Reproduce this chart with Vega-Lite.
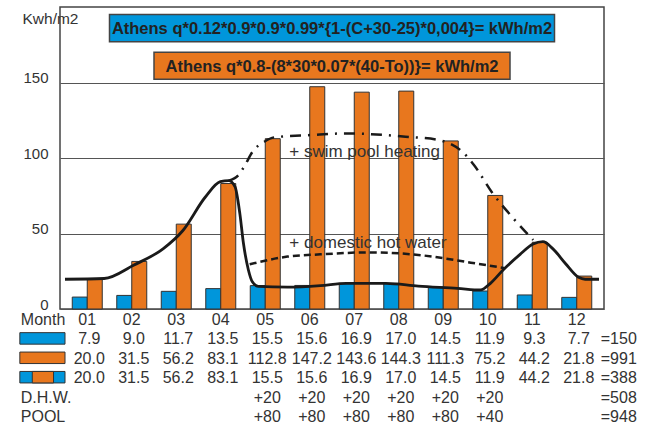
{
  "$schema": "https://vega.github.io/schema/vega-lite/v6.json",
  "width": 544,
  "height": 302,
  "autosize": {"type": "none"},
  "padding": {"left": 60, "top": 7, "right": 59, "bottom": 119},
  "background": "white",
  "config": {
    "view": {"stroke": "#444", "strokeWidth": 1.5},
    "font": "Liberation Sans",
    "text": {"font": "Liberation Sans", "color": "#333"}
  },
  "datasets": {
    "months": [
      {"month": 1, "label": "01", "collector": 7.9, "demand": 20.0, "combined": 20.0, "dhw": null, "pool": null},
      {"month": 2, "label": "02", "collector": 9.0, "demand": 31.5, "combined": 31.5, "dhw": null, "pool": null},
      {"month": 3, "label": "03", "collector": 11.7, "demand": 56.2, "combined": 56.2, "dhw": null, "pool": null},
      {"month": 4, "label": "04", "collector": 13.5, "demand": 83.1, "combined": 83.1, "dhw": null, "pool": null},
      {"month": 5, "label": "05", "collector": 15.5, "demand": 112.8, "combined": 15.5, "dhw": 20, "pool": 80},
      {"month": 6, "label": "06", "collector": 15.6, "demand": 147.2, "combined": 15.6, "dhw": 20, "pool": 80},
      {"month": 7, "label": "07", "collector": 16.9, "demand": 143.6, "combined": 16.9, "dhw": 20, "pool": 80},
      {"month": 8, "label": "08", "collector": 17.0, "demand": 144.3, "combined": 17.0, "dhw": 20, "pool": 80},
      {"month": 9, "label": "09", "collector": 14.5, "demand": 111.3, "combined": 14.5, "dhw": 20, "pool": 80},
      {"month": 10, "label": "10", "collector": 11.9, "demand": 75.2, "combined": 11.9, "dhw": 20, "pool": 40},
      {"month": 11, "label": "11", "collector": 9.3, "demand": 44.2, "combined": 44.2, "dhw": null, "pool": null},
      {"month": 12, "label": "12", "collector": 7.7, "demand": 21.8, "combined": 21.8, "dhw": null, "pool": null}
    ],
    "solid": [
      {"x": 0.5, "y": 19.7}, {"x": 1.38, "y": 20.2}, {"x": 2.04, "y": 29}, {"x": 2.71, "y": 40},
      {"x": 3.15, "y": 52}, {"x": 3.65, "y": 74}, {"x": 3.99, "y": 84.3}, {"x": 4.18, "y": 85},
      {"x": 4.32, "y": 81}, {"x": 4.43, "y": 63}, {"x": 4.51, "y": 43.5}, {"x": 4.62, "y": 26},
      {"x": 4.71, "y": 18}, {"x": 4.84, "y": 15}, {"x": 5.5, "y": 14.5}, {"x": 6.24, "y": 15.5},
      {"x": 6.82, "y": 17}, {"x": 7.71, "y": 17}, {"x": 8.44, "y": 15.2}, {"x": 9.32, "y": 13.7},
      {"x": 9.84, "y": 12.6}, {"x": 10.06, "y": 17}, {"x": 10.35, "y": 26}, {"x": 10.72, "y": 36},
      {"x": 11.02, "y": 43}, {"x": 11.24, "y": 44.6}, {"x": 11.46, "y": 40}, {"x": 11.75, "y": 30},
      {"x": 12.04, "y": 21}, {"x": 12.19, "y": 19.7}, {"x": 12.5, "y": 19.7}
    ],
    "dhwCurve": [
      {"x": 4.65, "y": 29.6}, {"x": 5.5, "y": 34.7}, {"x": 6.24, "y": 36.2}, {"x": 7.34, "y": 37.5},
      {"x": 8.44, "y": 35.8}, {"x": 9.62, "y": 30.7}, {"x": 10.39, "y": 27}
    ],
    "poolCurve": [
      {"x": 4.18, "y": 85}, {"x": 4.4, "y": 88.7}, {"x": 4.54, "y": 95}, {"x": 4.71, "y": 104},
      {"x": 4.98, "y": 110.8}, {"x": 5.21, "y": 113.7}, {"x": 6.02, "y": 115.2}, {"x": 6.82, "y": 116.3},
      {"x": 8.15, "y": 114.1}, {"x": 8.88, "y": 112}, {"x": 9.47, "y": 103}, {"x": 9.69, "y": 95.4},
      {"x": 10.1, "y": 77}, {"x": 10.54, "y": 61.2}, {"x": 11.02, "y": 45.7}
    ]
  },
  "data": {"name": "months"},
  "resolve": {"scale": {"y": "independent"}},
  "layer": [
    {
      "mark": {"type": "bar", "width": 15, "xOffset": -7.5, "fill": "#0096DB", "stroke": "#333", "strokeWidth": 1},
      "encoding": {
        "x": {"field": "month", "type": "quantitative", "scale": {"domain": [0.5, 12.5], "nice": false, "zero": false}, "axis": null},
        "y": {
          "field": "collector", "type": "quantitative",
          "scale": {"domain": [0, 200], "nice": false},
          "axis": {
            "values": [0, 50, 100, 150], "grid": true, "gridColor": "#555", "gridWidth": 1,
            "domain": false, "ticks": false, "labelFont": "Liberation Sans", "labelFontSize": 15,
            "labelColor": "#333", "labelPadding": 12, "labelBaseline": "alphabetic",
            "title": "Kwh/m2", "titleAngle": 0, "titleAlign": "left", "titleBaseline": "alphabetic",
            "titleX": -38, "titleY": 16, "titleFont": "Liberation Sans", "titleFontSize": 15.5,
            "titleFontWeight": "normal", "titleColor": "#333"
          }
        }
      }
    },
    {
      "mark": {"type": "bar", "width": 15, "xOffset": 7.5, "fill": "#E8771E", "stroke": "#333", "strokeWidth": 1},
      "encoding": {
        "x": {"field": "month", "type": "quantitative", "scale": {"domain": [0.5, 12.5], "nice": false, "zero": false}, "axis": null},
        "y": {"field": "demand", "type": "quantitative", "scale": {"domain": [0, 200], "nice": false}, "axis": null}
      }
    },
    {
      "data": {"name": "solid"},
      "mark": {"type": "line", "interpolate": "monotone", "stroke": "#1a1a1a", "strokeWidth": 2.8},
      "encoding": {
        "x": {"field": "x", "type": "quantitative", "scale": {"domain": [0.5, 12.5], "nice": false, "zero": false}, "axis": null},
        "y": {"field": "y", "type": "quantitative", "scale": {"domain": [0, 200], "nice": false}, "axis": null}
      }
    },
    {
      "data": {"name": "dhwCurve"},
      "mark": {"type": "line", "interpolate": "monotone", "stroke": "#1a1a1a", "strokeWidth": 2.5, "strokeDash": [7, 4]},
      "encoding": {
        "x": {"field": "x", "type": "quantitative", "scale": {"domain": [0.5, 12.5], "nice": false, "zero": false}, "axis": null},
        "y": {"field": "y", "type": "quantitative", "scale": {"domain": [0, 200], "nice": false}, "axis": null}
      }
    },
    {
      "data": {"name": "poolCurve"},
      "mark": {"type": "line", "interpolate": "monotone", "stroke": "#1a1a1a", "strokeWidth": 2.5, "strokeDash": [11, 7, 2, 7]},
      "encoding": {
        "x": {"field": "x", "type": "quantitative", "scale": {"domain": [0.5, 12.5], "nice": false, "zero": false}, "axis": null},
        "y": {"field": "y", "type": "quantitative", "scale": {"domain": [0, 200], "nice": false}, "axis": null}
      }
    },
    {
      "data": {"values": [
        {"t": "+ swim pool heating", "x": 5.54, "y": 100.5},
        {"t": "+ domestic hot water", "x": 5.54, "y": 40.4}
      ]},
      "mark": {"type": "text", "align": "left", "baseline": "alphabetic", "fontSize": 17, "color": "#333"},
      "encoding": {
        "x": {"field": "x", "type": "quantitative", "scale": {"domain": [0.5, 12.5], "nice": false, "zero": false}, "axis": null},
        "y": {"field": "y", "type": "quantitative", "scale": {"domain": [0, 200], "nice": false}, "axis": null},
        "text": {"field": "t"}
      }
    },
    {
      "data": {"values": [{"t": "Athens q*0.12*0.9*0.9*0.99*{1-(C+30-25)*0,004}= kWh/m2"}]},
      "layer": [
        {
          "mark": {"type": "rect", "fill": "#0096DB", "stroke": "#444", "strokeWidth": 1.5},
          "encoding": {
            "x": {"datum": 1.5, "type": "quantitative", "scale": {"domain": [0.5, 12.5], "nice": false, "zero": false}, "axis": null},
            "x2": {"datum": 11.5},
            "y": {"datum": 195, "type": "quantitative", "scale": {"domain": [0, 200], "nice": false}, "axis": null},
            "y2": {"datum": 177}
          }
        },
        {
          "mark": {"type": "text", "align": "center", "baseline": "alphabetic", "fontSize": 16.5, "fontWeight": "bold", "color": "#222"},
          "encoding": {
            "x": {"datum": 6.5, "type": "quantitative", "scale": {"domain": [0.5, 12.5], "nice": false, "zero": false}, "axis": null},
            "y": {"datum": 182, "type": "quantitative", "scale": {"domain": [0, 200], "nice": false}, "axis": null},
            "text": {"field": "t"}
          }
        }
      ]
    },
    {
      "data": {"values": [{"t": "Athens q*0.8-(8*30*0.07*(40-To))}= kWh/m2"}]},
      "layer": [
        {
          "mark": {"type": "rect", "fill": "#E8771E", "stroke": "#444", "strokeWidth": 1.5},
          "encoding": {
            "x": {"datum": 2.5, "type": "quantitative", "scale": {"domain": [0.5, 12.5], "nice": false, "zero": false}, "axis": null},
            "x2": {"datum": 10.5},
            "y": {"datum": 170, "type": "quantitative", "scale": {"domain": [0, 200], "nice": false}, "axis": null},
            "y2": {"datum": 152.2}
          }
        },
        {
          "mark": {"type": "text", "align": "center", "baseline": "alphabetic", "fontSize": 16.5, "fontWeight": "bold", "color": "#222"},
          "encoding": {
            "x": {"datum": 6.5, "type": "quantitative", "scale": {"domain": [0.5, 12.5], "nice": false, "zero": false}, "axis": null},
            "y": {"datum": 157.2, "type": "quantitative", "scale": {"domain": [0, 200], "nice": false}, "axis": null},
            "text": {"field": "t"}
          }
        }
      ]
    },
    {
      "mark": {"type": "text", "align": "center", "baseline": "alphabetic", "fontSize": 16, "color": "#333"},
      "encoding": {
        "x": {"field": "month", "type": "quantitative", "scale": {"domain": [0.5, 12.5], "nice": false, "zero": false}, "axis": null},
        "y": {"datum": "Month", "type": "ordinal", "scale": {"type": "point", "domain": ["Month", "collector", "demand", "combined", "dhw", "pool"], "range": [318, 415], "padding": 0}, "axis": null},
        "text": {"field": "label"}
      }
    },
    {
      "transform": [{"fold": ["collector", "demand", "combined"], "as": ["row", "value"]}],
      "mark": {"type": "text", "align": "center", "baseline": "alphabetic", "fontSize": 16, "dx": 2, "color": "#333"},
      "encoding": {
        "x": {"field": "month", "type": "quantitative", "scale": {"domain": [0.5, 12.5], "nice": false, "zero": false}, "axis": null},
        "y": {"field": "row", "type": "ordinal", "scale": {"type": "point", "domain": ["Month", "collector", "demand", "combined", "dhw", "pool"], "range": [318, 415], "padding": 0}, "axis": null},
        "text": {"field": "value", "type": "quantitative", "format": ".1f"}
      }
    },
    {
      "transform": [{"fold": ["dhw", "pool"], "as": ["row", "value"]}, {"filter": "isValid(datum.value)"}],
      "mark": {"type": "text", "align": "center", "baseline": "alphabetic", "fontSize": 16, "dx": 2, "color": "#333"},
      "encoding": {
        "x": {"field": "month", "type": "quantitative", "scale": {"domain": [0.5, 12.5], "nice": false, "zero": false}, "axis": null},
        "y": {"field": "row", "type": "ordinal", "scale": {"type": "point", "domain": ["Month", "collector", "demand", "combined", "dhw", "pool"], "range": [318, 415], "padding": 0}, "axis": null},
        "text": {"field": "value", "type": "quantitative", "format": "+d"}
      }
    },
    {
      "data": {"values": [{"row": "Month", "t": "Month"}, {"row": "dhw", "t": "D.H.W."}, {"row": "pool", "t": "POOL"}]},
      "mark": {"type": "text", "align": "left", "baseline": "alphabetic", "fontSize": 16, "color": "#333"},
      "encoding": {
        "x": {"datum": -0.493, "type": "quantitative", "scale": {"domain": [0.5, 12.5], "nice": false, "zero": false}, "axis": null},
        "y": {"field": "row", "type": "ordinal", "scale": {"type": "point", "domain": ["Month", "collector", "demand", "combined", "dhw", "pool"], "range": [318, 415], "padding": 0}, "axis": null},
        "text": {"field": "t"}
      }
    },
    {
      "data": {"values": [{"row": "collector", "t": "=150"}, {"row": "demand", "t": "=991"}, {"row": "combined", "t": "=388"}, {"row": "dhw", "t": "=508"}, {"row": "pool", "t": "=948"}]},
      "mark": {"type": "text", "align": "left", "baseline": "alphabetic", "fontSize": 16, "color": "#333"},
      "encoding": {
        "x": {"datum": 12.54, "type": "quantitative", "scale": {"domain": [0.5, 12.5], "nice": false, "zero": false}, "axis": null},
        "y": {"field": "row", "type": "ordinal", "scale": {"type": "point", "domain": ["Month", "collector", "demand", "combined", "dhw", "pool"], "range": [318, 415], "padding": 0}, "axis": null},
        "text": {"field": "t"}
      }
    },
    {
      "data": {"values": [{"row": "collector"}, {"row": "combined"}]},
      "mark": {"type": "bar", "height": 11.5, "yOffset": -6, "fill": "#0096DB", "stroke": "#333", "strokeWidth": 1},
      "encoding": {
        "x": {"datum": -0.515, "type": "quantitative", "scale": {"domain": [0.5, 12.5], "nice": false, "zero": false}, "axis": null},
        "x2": {"datum": 0.5},
        "y": {"field": "row", "type": "ordinal", "scale": {"type": "point", "domain": ["Month", "collector", "demand", "combined", "dhw", "pool"], "range": [318, 415], "padding": 0}, "axis": null}
      }
    },
    {
      "data": {"values": [{"row": "demand"}]},
      "mark": {"type": "bar", "height": 11.5, "yOffset": -6, "fill": "#E8771E", "stroke": "#333", "strokeWidth": 1},
      "encoding": {
        "x": {"datum": -0.515, "type": "quantitative", "scale": {"domain": [0.5, 12.5], "nice": false, "zero": false}, "axis": null},
        "x2": {"datum": 0.5},
        "y": {"field": "row", "type": "ordinal", "scale": {"type": "point", "domain": ["Month", "collector", "demand", "combined", "dhw", "pool"], "range": [318, 415], "padding": 0}, "axis": null}
      }
    },
    {
      "data": {"values": [{"row": "combined"}]},
      "mark": {"type": "bar", "height": 11.5, "yOffset": -6, "fill": "#E8771E", "stroke": "#333", "strokeWidth": 1},
      "encoding": {
        "x": {"datum": -0.235, "type": "quantitative", "scale": {"domain": [0.5, 12.5], "nice": false, "zero": false}, "axis": null},
        "x2": {"datum": 0.242},
        "y": {"field": "row", "type": "ordinal", "scale": {"type": "point", "domain": ["Month", "collector", "demand", "combined", "dhw", "pool"], "range": [318, 415], "padding": 0}, "axis": null}
      }
    }
  ]
}
